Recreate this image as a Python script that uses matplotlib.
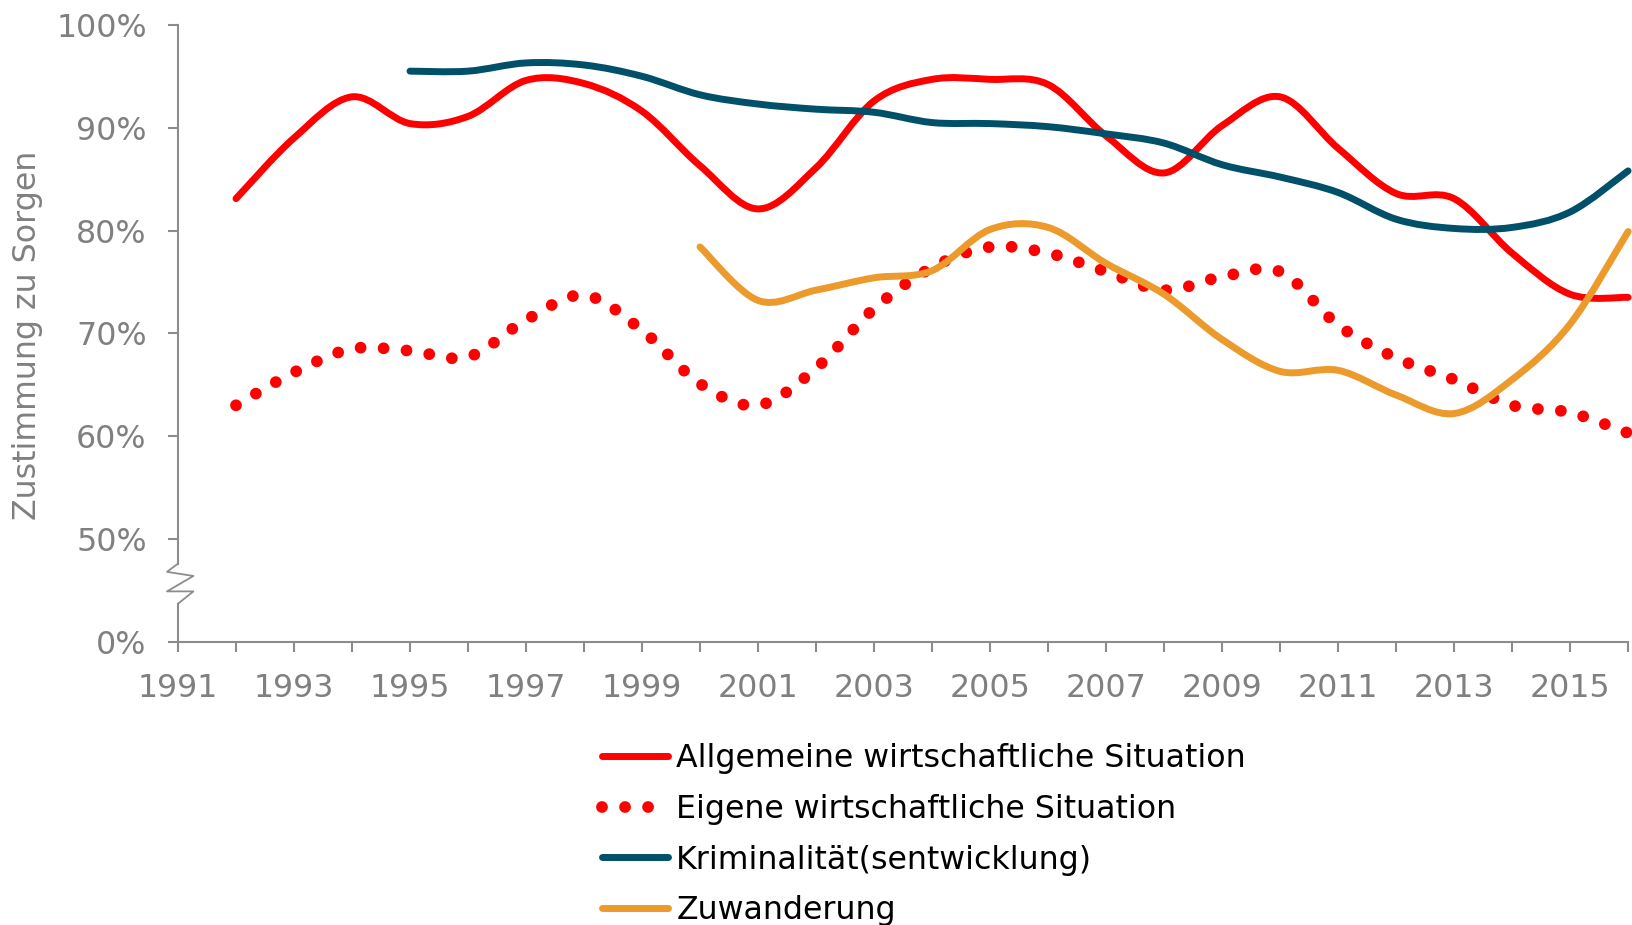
import numpy as np
import matplotlib
matplotlib.use("Agg")
import matplotlib.pyplot as plt
from matplotlib.path import Path
from matplotlib.patches import PathPatch
from matplotlib.lines import Line2D
from matplotlib.transforms import blended_transform_factory

# ---------------- data ----------------
years_allg = list(range(1992, 2017))
allgemeine = [83.1, 89.0, 93.0, 90.4, 91.1, 94.6, 94.3, 91.6, 86.3, 82.1,
              86.1, 92.6, 94.7, 94.7, 94.2, 89.2, 85.6, 90.2, 93.0, 88.0,
              83.6, 83.1, 77.8, 73.8, 73.5]

years_eigen = list(range(1992, 2017))
eigene = [63.0, 66.2, 68.5, 68.3, 67.7, 71.3, 73.7, 70.3, 65.1, 63.0,
          66.6, 72.4, 76.4, 78.4, 77.8, 76.0, 74.2, 75.5, 76.0, 70.8,
          67.6, 65.5, 63.0, 62.3, 60.3]

years_krim = list(range(1995, 2017))
kriminalitaet = [95.5, 95.5, 96.3, 96.1, 95.0, 93.2, 92.3, 91.8, 91.5, 90.5,
                 90.4, 90.1, 89.4, 88.5, 86.4, 85.2, 83.7, 81.1, 80.2, 80.3,
                 81.8, 85.8]

years_zuw = list(range(2000, 2017))
zuwanderung = [78.4, 73.2, 74.2, 75.4, 76.1, 80.1, 80.3, 76.8, 73.8, 69.4,
               66.3, 66.4, 64.0, 62.2, 65.5, 70.9, 79.9]

labels = ["Allgemeine wirtschaftliche Situation",
          "Eigene wirtschaftliche Situation",
          "Kriminalität(sentwicklung)",
          "Zuwanderung"]

ytick_vals = [40, 50, 60, 70, 80, 90, 100]
ytick_labels = ["0%", "50%", "60%", "70%", "80%", "90%", "100%"]
x_min, x_max = 1991, 2016

RED = "#FF0000"
TEAL = "#00506A"
ORANGE = "#EB9A2B"
GRAY = "#808080"
SPINE = "#8C8C8C"
FS = 22.8


def smooth_path(x, y):
    """Excel-like smoothed line as cubic Bezier path through the data points."""
    x = np.asarray(x, float)
    y = np.asarray(y, float)
    n = len(x)
    verts = [(x[0], y[0])]
    codes = [Path.MOVETO]
    for i in range(n - 1):
        p0 = np.array([x[max(i - 1, 0)], y[max(i - 1, 0)]])
        p1 = np.array([x[i], y[i]])
        p2 = np.array([x[i + 1], y[i + 1]])
        p3 = np.array([x[min(i + 2, n - 1)], y[min(i + 2, n - 1)]])
        c1 = p1 + (p2 - p0) / 6.0
        c2 = p2 - (p3 - p1) / 6.0
        verts += [tuple(c1), tuple(c2), tuple(p2)]
        codes += [Path.CURVE4] * 3
    return Path(verts, codes)


fig = plt.figure(figsize=(16.33, 9.25), dpi=100)
ax = fig.add_axes([0.109, 0.3062, 0.888, 0.9731 - 0.3062])
ax.set_xlim(x_min, x_max)
ax.set_ylim(40, 100)

LW = 5.0
series = [
    (years_allg, allgemeine, RED, "-"),
    (years_eigen, eigene, RED, "dot"),
    (years_krim, kriminalitaet, TEAL, "-"),
    (years_zuw, zuwanderung, ORANGE, "-"),
]
for xs, ys, col, ls in series:
    p = smooth_path(xs, ys)
    if ls == "dot":
        patch = PathPatch(p, fill=False, edgecolor=col, lw=8.5,
                          linestyle=(0, (0.001, 1.95)), capstyle="round",
                          joinstyle="round", clip_on=False, zorder=3)
    else:
        patch = PathPatch(p, fill=False, edgecolor=col, lw=LW,
                          capstyle="round", joinstyle="round", clip_on=False,
                          zorder=3)
    ax.add_patch(patch)

# axes styling
for s in ["top", "right"]:
    ax.spines[s].set_visible(False)
ax.spines["left"].set_color(SPINE)
ax.spines["bottom"].set_color(SPINE)
ax.spines["left"].set_linewidth(1.5)
ax.spines["bottom"].set_linewidth(1.5)
ax.spines["left"].set_bounds(47.6, 100)

ax.set_yticks(ytick_vals)
ax.set_yticklabels(ytick_labels)
ax.set_xticks(range(x_min, x_max + 1))
ax.set_xticklabels([str(y) if (y - x_min) % 2 == 0 else "" for y in range(x_min, x_max + 1)])
ax.tick_params(axis="both", colors=SPINE, labelcolor=GRAY, labelsize=FS,
               width=1.5, length=7.5, direction="out")
ax.tick_params(axis="y", pad=15)
ax.tick_params(axis="x", pad=15)

# axis break marker
tr = blended_transform_factory(ax.transAxes, ax.transData)
dx = 11.0 / (0.888 * 1633)
ax.plot([0, 0], [40, 43.7], color=SPINE, lw=1.5, transform=tr, clip_on=False)
ax.plot([0, -dx, 1.4 * dx, -dx, 1.4 * dx, 0],
        [47.6, 46.8, 46.4, 44.9, 44.9, 43.7],
        color=SPINE, lw=1.3, transform=tr, clip_on=False)

fig.text(0.0171, 0.637, "Zustimmung zu Sorgen", rotation=90, ha="center",
         va="center", color=GRAY, fontsize=FS)

handles = [
    Line2D([], [], color=RED, lw=LW, solid_capstyle="round"),
    Line2D([], [], color=RED, lw=8.5, linestyle=(0, (0.001, 1.95)),
           dash_capstyle="round"),
    Line2D([], [], color=TEAL, lw=LW, solid_capstyle="round"),
    Line2D([], [], color=ORANGE, lw=LW, solid_capstyle="round"),
]
fig.legend(handles, labels, loc="upper left", bbox_to_anchor=(0.3686, 0.1965),
           frameon=False, fontsize=FS, handlelength=2.1, handletextpad=0.25,
           labelspacing=0.62, borderpad=0, borderaxespad=0)

fig.savefig("out.png", dpi=100)
